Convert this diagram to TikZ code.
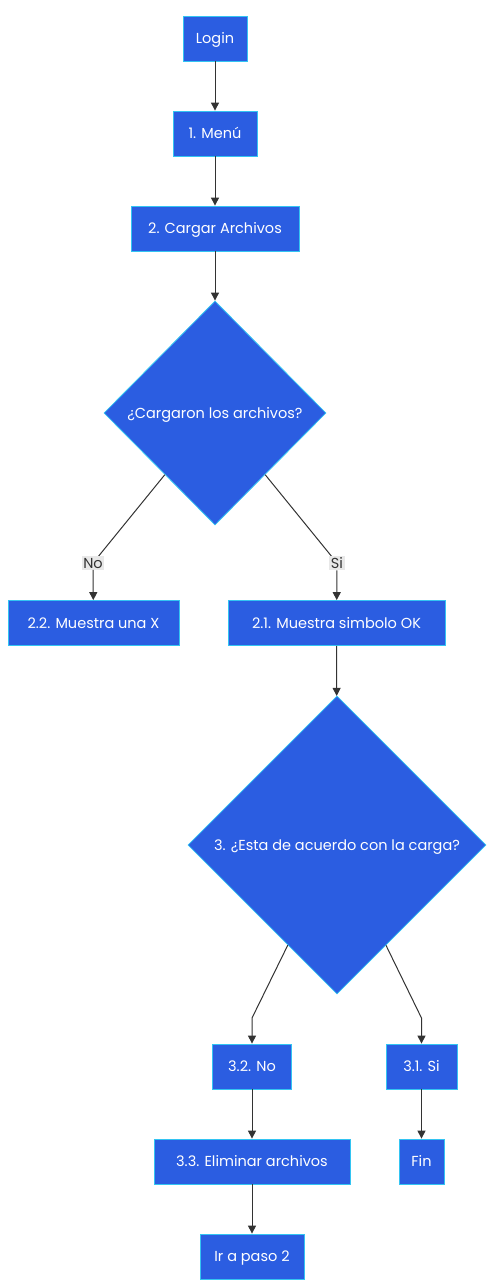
\documentclass[tikz,border=0pt]{standalone}
\usepackage{fontspec}
\setmainfont{Poppins}
\usetikzlibrary{shapes.geometric,arrows.meta}

\definecolor{boxblue}{HTML}{2B5DE1}
\definecolor{boxline}{HTML}{33C4F2}
\definecolor{linegray}{HTML}{333333}
\definecolor{labelgray}{HTML}{E8E8E8}

\tikzset{
  stepbox/.style={rectangle, draw=boxline, fill=boxblue, text=white, line width=0.8pt,
                  minimum height=45pt, inner xsep=4pt, text height=10pt, text depth=0pt,
                  font=\fontsize{14.5}{16}\selectfont},
  askbox/.style={diamond, draw=boxline, fill=boxblue, text=white, line width=0.8pt,
                 inner sep=0pt, text height=10pt, text depth=0pt, font=\fontsize{14.5}{16}\selectfont},
  edgelabel/.style={fill=labelgray, text=linegray, inner sep=1.5pt, font=\fontsize{14.5}{16}\selectfont},
  flow/.style={draw=linegray, line width=1pt}
}

\begin{document}
\begin{tikzpicture}[x=1pt, y=-1pt, >={Triangle[length=8pt,width=8pt]}]
  \useasboundingbox (0,0) rectangle (502,1287);

  % main column
  \node[stepbox, minimum width=64pt] (login) at (215, 38.5) {Login};
  \node[stepbox, minimum width=84pt] (menu) at (215, 133.5) {1. Menú};
  \node[stepbox, minimum width=168pt] (cargar) at (215, 228.5) {2. Cargar Archivos};
  \node[askbox, minimum width=222pt, minimum height=224pt] (ask1) at (215, 413) {¿Cargaron los archivos?};

  % answers to ask1
  \node[edgelabel] (no) at (93, 563) {No};
  \node[edgelabel] (si) at (337, 563) {Si};
  \node[stepbox, minimum width=171pt] (equis) at (93.5, 623) {2.2. Muestra una X};
  \node[stepbox, minimum width=217pt] (okay) at (336.5, 623) {2.1. Muestra simbolo OK};

  % second question
  \node[askbox, minimum width=298pt, minimum height=298pt] (ask2) at (337, 845) {3. ¿Esta de acuerdo con la carga?};
  \coordinate (bendno) at (252, 1018);
  \coordinate (bendsi) at (421.5, 1018);
  \node[stepbox, minimum width=79pt] (nocarga) at (252, 1066.5) {3.2. No};
  \node[stepbox, minimum width=71pt] (sicarga) at (421.5, 1066.5) {3.1. Si};
  \node[stepbox, minimum width=196pt] (borrar) at (252, 1161.5) {3.3. Eliminar archivos};
  \node[stepbox, minimum width=45pt] (fin) at (421.5, 1161.5) {Fin};
  \node[stepbox, minimum width=104pt] (volver) at (252, 1256.5) {Ir a paso 2};

  % connectors
  \draw[flow, ->] (login) -- (menu);
  \draw[flow, ->] (menu) -- (cargar);
  \draw[flow, ->] (cargar) -- (ask1);
  \draw[flow] (ask1) -- (no.center);
  \draw[flow] (ask1) -- (si.center);
  \node[edgelabel] at (no) {No}; %redraw over line
  \node[edgelabel] at (si) {Si};
  \draw[flow, ->] (no) -- (equis);
  \draw[flow, ->] (si) -- (okay);
  \draw[flow, ->] (okay) -- (ask2);
  \draw[flow, ->] (ask2) -- (bendno) -- (nocarga);
  \draw[flow, ->] (ask2) -- (bendsi) -- (sicarga);
  \draw[flow, ->] (nocarga) -- (borrar);
  \draw[flow, ->] (borrar) -- (volver);
  \draw[flow, ->] (sicarga) -- (fin);
\end{tikzpicture}
\end{document}
